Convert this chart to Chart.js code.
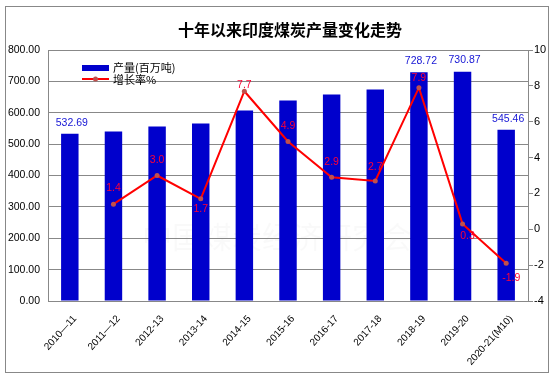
<!DOCTYPE html>
<html>
<head>
<meta charset="utf-8">
<script src="https://cdn.jsdelivr.net/npm/chart.js@4/dist/chart.umd.min.js"></script>
<style>
html,body{margin:0;padding:0;background:#fff;}
#wrap{width:554px;height:379px;position:relative;}
</style>
</head>
<body>
<div id="wrap"><canvas id="c" width="554" height="379"></canvas></div>
<script>
// ---- data ----
const categories = ["2010—11","2011—12","2012-13","2013-14","2014-15","2015-16","2016-17","2017-18","2018-19","2019-20","2020-21(M10)"];
const production = [532.69, 540, 556, 566, 607, 639, 658, 674, 728.72, 730.87, 545.46];
const growth = [null, 1.4, 3.0, 1.7, 7.7, 4.9, 2.9, 2.7, 7.9, 0.3, -1.9];
const productionLabelShown = [true,false,false,false,false,false,false,false,true,true,true];
const leftTicks = [0,100,200,300,400,500,600,700,800];
const rightTicks = [-4,-2,0,2,4,6,8,10];
const titleText = "十年以来印度煤炭产量变化走势";
const seriesNames = ["产量(百万吨)", "增长率%"];
const watermarkText = "中国煤炭经济研究会";
// label placement for growth labels (style, not data): vertical / horizontal offset from point
const growthLabelDy = [0,-16,-15,10,-6,-15,-15,-14,-10,12,15];
const growthLabelDx = [0,0,0,0,0,0,0,0,0,5,5];

const CJK = '"Noto Sans CJK SC", sans-serif';
const LAT = '"Liberation Sans", Arial, sans-serif';

const decor = {
  id: 'decor',
  beforeDraw(chart) {
    const ctx = chart.ctx;
    ctx.save();
    ctx.fillStyle = '#fff';
    ctx.fillRect(0,0,chart.width,chart.height);
    ctx.strokeStyle = '#888';
    ctx.lineWidth = 1;
    ctx.strokeRect(5.5,6.5,543,366);
    // watermark
    ctx.fillStyle = 'rgba(0,0,0,0.025)';
    ctx.font = '30px ' + CJK;
    ctx.textBaseline = 'middle';
    ctx.textAlign = 'left';
    ctx.fillText(watermarkText, 142, 237);
    ctx.restore();
  },
  afterDraw(chart) {
    const ctx = chart.ctx;
    ctx.save();
    // title
    ctx.fillStyle = '#000';
    ctx.font = 'bold 16px ' + CJK;
    ctx.textAlign = 'center';
    ctx.textBaseline = 'middle';
    ctx.fillText(titleText, 290, 30);
    // legend
    ctx.fillStyle = '#0000CC';
    ctx.fillRect(82, 65, 27, 6);
    ctx.strokeStyle = '#FF0000';
    ctx.lineWidth = 2;
    ctx.beginPath(); ctx.moveTo(82, 79); ctx.lineTo(109, 79); ctx.stroke();
    ctx.fillStyle = '#C0504D';
    ctx.beginPath(); ctx.arc(95.5, 79, 2.5, 0, Math.PI*2); ctx.fill();
    ctx.fillStyle = '#000';
    ctx.font = '11px ' + CJK;
    ctx.textAlign = 'left';
    ctx.fillText(seriesNames[0], 113, 68);
    ctx.fillText(seriesNames[1], 113, 80);
    // bar labels
    const barMeta = chart.getDatasetMeta(0);
    ctx.font = '10.5px ' + LAT;
    ctx.fillStyle = '#1515D5';
    ctx.textAlign = 'center';
    ctx.textBaseline = 'bottom';
    barMeta.data.forEach((el, i) => {
      if (!productionLabelShown[i]) return;
      ctx.fillText(production[i].toFixed(2), el.x + 2, el.y - 6);
    });
    // line labels
    const lineMeta = chart.getDatasetMeta(1);
    ctx.fillStyle = '#FF0033';
    ctx.textBaseline = 'middle';
    lineMeta.data.forEach((el, i) => {
      if (growth[i] === null) return;
      ctx.fillText(growth[i].toFixed(1), el.x + growthLabelDx[i], el.y + growthLabelDy[i]);
    });
    ctx.restore();
  }
};

new Chart(document.getElementById('c'), {
  data: {
    labels: categories,
    datasets: [
      {
        type: 'bar',
        label: seriesNames[0],
        data: production,
        backgroundColor: '#0000CC',
        borderWidth: 0,
        categoryPercentage: 1.0,
        barPercentage: 0.4,
        yAxisID: 'y',
        order: 2
      },
      {
        type: 'line',
        label: seriesNames[1],
        data: growth,
        borderColor: '#FF0000',
        borderWidth: 2,
        pointRadius: 2.5,
        pointBackgroundColor: '#C0504D',
        pointBorderWidth: 0,
        tension: 0,
        spanGaps: false,
        yAxisID: 'y1',
        order: 1
      }
    ]
  },
  options: {
    responsive: false,
    animation: false,
    devicePixelRatio: 1,
    layout: { padding: { top: 50, left: 0, right: 0, bottom: 0 } },
    plugins: { legend: { display: false }, tooltip: { enabled: false }, title: { display: false } },
    scales: {
      x: {
        grid: { display: false, drawTicks: false },
        border: { color: '#888', width: 1 },
        ticks: {
          color: '#000',
          font: { family: LAT, size: 10 },
          minRotation: 48, maxRotation: 48,
          autoSkip: false,
          padding: 12,
          labelOffset: 5
        },
        afterFit(scale) { scale.height = 78; }
      },
      y: {
        position: 'left',
        min: 0, max: 800,
        afterBuildTicks(scale) { scale.ticks = leftTicks.map(v => ({ value: v })); },
        grid: { color: '#888', drawTicks: false },
        border: { color: '#888', width: 1 },
        ticks: {
          color: '#000',
          font: { family: LAT, size: 10.5 },
          padding: 8,
          callback: v => Number(v).toFixed(2)
        },
        afterFit(scale) { scale.width = 48; }
      },
      y1: {
        position: 'right',
        min: -4, max: 10,
        afterBuildTicks(scale) { scale.ticks = rightTicks.map(v => ({ value: v })); },
        grid: { drawOnChartArea: false, color: '#888', tickLength: 5 },
        border: { color: '#888', width: 1 },
        ticks: {
          color: '#000',
          font: { family: LAT, size: 11 },
          padding: 1
        },
        afterFit(scale) { scale.width = 26; }
      }
    }
  },
  plugins: [decor]
});
</script>
</body>
</html>
